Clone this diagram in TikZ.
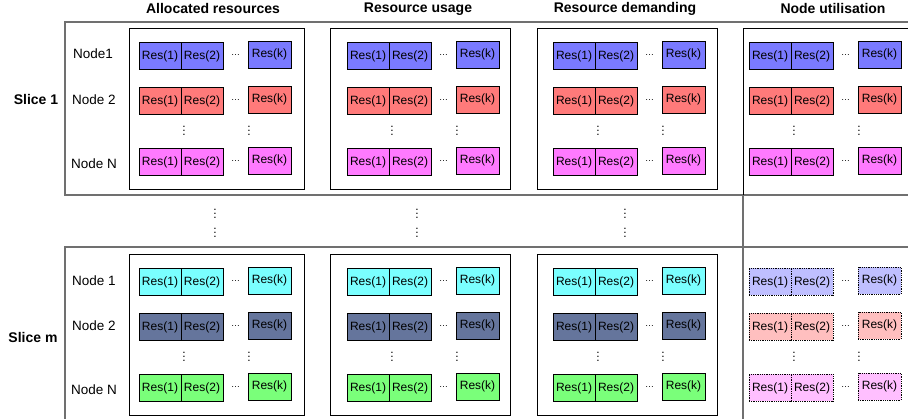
\documentclass[tikz,border=0pt]{standalone}
\usepackage{fontspec}
\setmainfont{Liberation Sans}
\usepackage{tikz}
\usetikzlibrary{calc, positioning}

\definecolor{resblue}{HTML}{7A7AFF}
\definecolor{resred}{HTML}{FF7A7A}
\definecolor{respink}{HTML}{FF7AFF}
\definecolor{rescyan}{HTML}{7AFFFF}
\definecolor{resslate}{HTML}{65759C}
\definecolor{resgreen}{HTML}{7AFF7A}
\definecolor{lightblue}{HTML}{BFBFFF}
\definecolor{lightred}{HTML}{FFBFBF}
\definecolor{lightpink}{HTML}{FFBFFF}
\definecolor{framegray}{HTML}{707070}

\tikzset{
  head/.style={font=\bfseries\fontsize{14}{14}\selectfont},
  slicelabel/.style={font=\bfseries\fontsize{14}{14}\selectfont},
  rowlabel/.style={font=\fontsize{13.5}{13.5}\selectfont},
  res/.style={draw, line width=0.8pt, minimum width=42pt, minimum height=27pt,
    inner sep=0pt, outer sep=0pt, font=\fontsize{12}{12}\selectfont},
  hdots/.style={inner sep=0pt, font=\fontsize{9}{9}\selectfont},
  vdot/.style={inner sep=0pt, font=\fontsize{12}{12}\selectfont},
  gapdots/.style={inner sep=0pt, align=center, font=\fontsize{12}{19}\selectfont},
  frame/.style={framegray, line width=1.5pt},
  panel/.style={black, line width=0.8pt}
}

% one row of cells: name, left x, centre y, fill, extra style
\newcommand{\resrow}[5]{%
  \node[res, fill=#4, #5, anchor=west] (#1a) at (#2,#3) {Res(1)};
  \node[res, fill=#4, #5, right=0pt of #1a] (#1b) {Res(2)};
  \node[res, fill=#4, #5, minimum width=43pt, right=25pt of #1b, yshift=1.5pt] (#1k) {Res(k)};
  \node[hdots] (#1d) at ($(#1b.east)!.5!(#1k.west)$) {\dots};
}

\begin{document}
\begin{tikzpicture}[x=1pt, y=-1pt]

  \useasboundingbox[fill=white] (0,0) rectangle (908,419);

  \node[head] (hAlloc) at (213,9) {Allocated resources};
  \node[head] (hUsage) at (418,9) {Resource usage};
  \node[head] (hDemand) at (625,9) {Resource demanding};
  \node[head] (hUtil) at (833,9) {Node utilisation};

  % slice frames
  \draw[frame] (908,22) -- (65,22) -- (65,195) -- (908,195);
  \draw[frame] (908,247) -- (65,247) -- (65,419);
  \draw[frame] (743,195) -- (743,419);

  % panels
  \draw[panel] (129,28) rectangle (304,189);
  \draw[panel] (330,28) rectangle (510,189);
  \draw[panel] (537,28) rectangle (717,189);
  \draw[panel] (908,28) -- (743,28) -- (743,195);
  \draw[panel] (129,254) rectangle (304,415);
  \draw[panel] (330,254) rectangle (510,415);
  \draw[panel] (537,254) rectangle (717,415);

  \node[slicelabel] (slice1) at (36,99) {Slice 1};
  \node[slicelabel] (slicem) at (33,337) {Slice m};

  \node[rowlabel] (n11) at (93,54) {Node1};
  \node[rowlabel] (n12) at (94,100) {Node 2};
  \node[rowlabel] (n1N) at (94,164) {Node N};
  \node[rowlabel] (nm1) at (94,281) {Node 1};
  \node[rowlabel] (nm2) at (94,326) {Node 2};
  \node[rowlabel] (nmN) at (94,390) {Node N};

  \foreach \x/\c in {139/0, 347/1, 553/2, 749/3} {
    \resrow{s1r1c\c}{\x}{56}{resblue}{}
    \resrow{s1r2c\c}{\x}{101}{resred}{}
    \resrow{s1rNc\c}{\x}{162}{respink}{}
    \node[vdot] (s1va\c) at (\x+45,128) {$\vdots$};
    \node[vdot] (s1vk\c) at (\x+110,128) {$\vdots$};
  }

  \foreach \x/\c in {139/0, 347/1, 553/2} {
    \resrow{smr1c\c}{\x}{282}{rescyan}{}
    \resrow{smr2c\c}{\x}{327}{resslate}{}
    \resrow{smrNc\c}{\x}{388}{resgreen}{}
    \node[vdot] (smva\c) at (\x+45,354) {$\vdots$};
    \node[vdot] (smvk\c) at (\x+110,354) {$\vdots$};
  }

  \resrow{smr1c3}{749}{282}{lightblue}{densely dotted}
  \resrow{smr2c3}{749}{327}{lightred}{densely dotted}
  \resrow{smrNc3}{749}{388}{lightpink}{densely dotted}
  \node[vdot] (smva3) at (794,354) {$\vdots$};
  \node[vdot] (smvk3) at (859,354) {$\vdots$};

  % dots between the slices
  \node[gapdots] (gap0) at (215,220) {$\vdots$\\$\vdots$};
  \node[gapdots] (gap1) at (417,220) {$\vdots$\\$\vdots$};
  \node[gapdots] (gap2) at (625,220) {$\vdots$\\$\vdots$};

\end{tikzpicture}
\end{document}
